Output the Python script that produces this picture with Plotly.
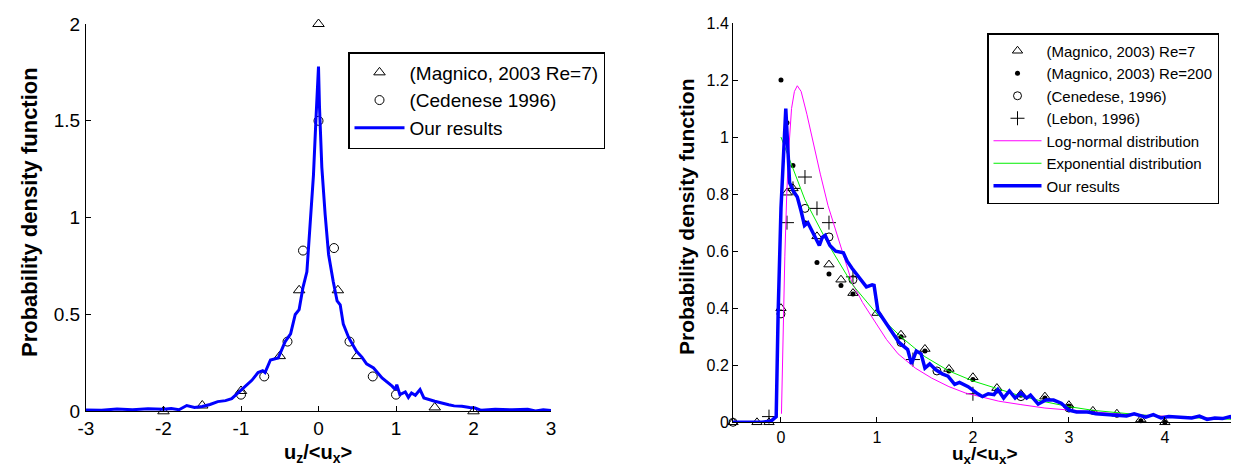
import plotly.graph_objects as go

FONT = "Liberation Sans, Arial, sans-serif"

# ---------------- Left panel data: u_z/<u_x> ----------------
left_mag_x = [-2.0, -1.5, -1.0, -0.5, -0.25, 0.0, 0.25, 0.5, 1.5, 2.0]
left_mag_y = [0.0, 0.03, 0.105, 0.285, 0.625, 2.0, 0.625, 0.285, 0.02, 0.0]

left_ced_x = [-1.0, -0.7, -0.4, -0.2, 0.0, 0.2, 0.4, 0.7, 1.0]
left_ced_y = [0.086, 0.18, 0.36, 0.83, 1.5, 0.843, 0.36, 0.18, 0.086]

left_our_x = [-3.0, -2.8, -2.6, -2.4, -2.2, -2.0, -1.9, -1.8, -1.7, -1.6, -1.5, -1.4,
              -1.3, -1.2, -1.12, -1.05, -0.95, -0.86, -0.78, -0.72, -0.69, -0.62, -0.52,
              -0.43, -0.36, -0.3, -0.25, -0.2, -0.15, -0.11, -0.065, -0.034, -0.01, 0.0,
              0.013, 0.043, 0.086, 0.13, 0.19, 0.24, 0.28, 0.32, 0.39, 0.49, 0.56, 0.62,
              0.71, 0.82, 0.95, 0.99, 1.01, 1.05, 1.12, 1.16, 1.2, 1.25, 1.31, 1.36, 1.5,
              1.6, 1.68, 1.75, 1.85, 1.95, 2.02, 2.1, 2.28, 2.5, 2.7, 2.8, 2.9, 3.0]
left_our_y = [0.007, 0.005, 0.012, 0.008, 0.013, 0.01, 0.015, 0.008, 0.03, 0.02, 0.025, 0.035,
              0.05, 0.055, 0.065, 0.09, 0.13, 0.16, 0.2, 0.21, 0.2, 0.265, 0.275,
              0.36, 0.4, 0.5, 0.525, 0.64, 0.72, 0.95, 1.22, 1.5, 1.77, 1.78,
              1.57, 1.26, 1.015, 0.81, 0.67, 0.57, 0.55, 0.45, 0.38, 0.31, 0.28, 0.245,
              0.224, 0.172, 0.13, 0.112, 0.138, 0.086, 0.1, 0.072, 0.095, 0.083, 0.112, 0.069, 0.052,
              0.04, 0.034, 0.028, 0.026, 0.02, 0.017, 0.005, 0.01, 0.008, 0.01, 0.002, 0.008, 0.004]

left_xticks = [-3, -2, -1, 0, 1, 2, 3]
left_xticktext = ["-3", "-2", "-1", "0", "1", "2", "3"]
left_yticks = [0, 0.5, 1, 1.5, 2]

# ---------------- Right panel data: u_x/<u_x> ----------------
r_mag7_x = [-0.5, -0.25, -0.125, 0.0, 0.0625, 0.125, 0.375, 0.5, 0.625, 0.75, 1.0, 1.25, 1.5,
            1.75, 2.0, 2.25, 2.5, 2.75, 3.0, 3.25, 3.5, 3.75, 4.0]
r_mag7_y = [0.0, 0.0, 0.0, 0.4, 0.805, 0.82, 0.652, 0.553, 0.5, 0.453, 0.383, 0.307, 0.257,
            0.187, 0.158, 0.12, 0.099, 0.09, 0.06, 0.04, 0.03, 0.01, 0.0]

r_mag200_x = [0.0, 0.0625, 0.125, 0.25, 0.375, 0.5, 0.625, 0.75, 1.25, 1.5, 1.75, 2.0,
              2.25, 2.5, 2.75, 3.0, 3.25, 3.5, 3.75, 4.0]
r_mag200_y = [1.2, 1.05, 0.9, 0.70, 0.56, 0.52, 0.48, 0.45, 0.3, 0.25, 0.18, 0.15,
              0.11, 0.095, 0.085, 0.055, 0.035, 0.025, 0.005, 0.0]

r_ced_x = [-0.5, 0.0, 0.25, 0.5, 0.75, 1.25, 1.625, 2.5, 3.0]
r_ced_y = [0.0, 0.38, 0.75, 0.65, 0.5, 0.28, 0.18, 0.09, 0.05]

r_leb_x = [-0.125, 0.0625, 0.125, 0.25, 0.375, 0.5, 0.75, 1.375, 2.0]
r_leb_y = [0.02, 0.70, 0.82, 0.86, 0.75, 0.70, 0.51, 0.22, 0.10]

r_logn_x = [0.005, 0.01, 0.02, 0.04, 0.06, 0.08, 0.11, 0.14, 0.17, 0.21, 0.27, 0.34, 0.41,
            0.49, 0.58, 0.65, 0.74, 0.85, 0.98, 1.1, 1.22, 1.4, 1.57, 1.75, 1.92, 2.1,
            2.27, 2.5, 2.75, 3.0, 3.25, 3.5, 3.75, 4.0, 4.25, 4.5, 4.8]
r_logn_y = [0.03, 0.12, 0.3, 0.58, 0.8, 0.95, 1.10, 1.16, 1.18, 1.16, 1.08, 0.97, 0.87,
            0.76, 0.66, 0.59, 0.49, 0.42, 0.35, 0.29, 0.24, 0.19, 0.155, 0.125, 0.103, 0.087,
            0.074, 0.062, 0.05, 0.043, 0.036, 0.03, 0.025, 0.021, 0.018, 0.015, 0.012]

r_exp_x = [0.0, 0.25, 0.5, 0.75, 1.0, 1.25, 1.5, 1.75, 2.0, 2.25, 2.5, 2.75, 3.0, 3.25,
           3.5, 3.75, 4.0, 4.25, 4.5, 4.8]
r_exp_y = [1.0, 0.78, 0.62, 0.48, 0.38, 0.30, 0.23, 0.18, 0.145, 0.118, 0.092, 0.072, 0.055,
           0.042, 0.033, 0.026, 0.02, 0.016, 0.012, 0.009]

r_our_x = [-0.5, -0.4, -0.3, -0.2, -0.1, -0.05, -0.03, 0.0, 0.05, 0.09, 0.13, 0.17, 0.21,
           0.245, 0.28, 0.32, 0.36, 0.4, 0.43, 0.46, 0.51, 0.57, 0.65, 0.69, 0.74, 0.82,
           0.89, 0.95, 0.97, 1.01, 1.1, 1.17, 1.23, 1.32, 1.36, 1.41, 1.46, 1.5, 1.55, 1.61,
           1.68, 1.74, 1.81, 1.86, 1.95, 2.05, 2.1, 2.16, 2.22, 2.26, 2.32, 2.38, 2.44, 2.5,
           2.56, 2.6, 2.68, 2.76, 2.84, 2.92, 3.0, 3.08, 3.2, 3.28, 3.4, 3.52, 3.6, 3.68,
           3.8, 3.88, 3.96, 4.04, 4.12, 4.2, 4.28, 4.36, 4.44, 4.52, 4.6, 4.68, 4.74, 4.82]
r_our_y = [0.0, 0.0, 0.0, 0.0, 0.005, 0.02, 0.38, 0.75, 1.1, 0.84, 0.81, 0.79, 0.74,
           0.69, 0.70, 0.675, 0.65, 0.62, 0.648, 0.655, 0.62, 0.60, 0.594, 0.565, 0.54, 0.505,
           0.475, 0.482, 0.48, 0.39, 0.345, 0.31, 0.28, 0.255, 0.205, 0.25, 0.24, 0.19, 0.205, 0.185,
           0.17, 0.162, 0.133, 0.14, 0.125, 0.10, 0.09, 0.10, 0.097, 0.115, 0.085, 0.11, 0.085, 0.103,
           0.085, 0.095, 0.064, 0.078, 0.078, 0.067, 0.043, 0.036, 0.036, 0.03, 0.027, 0.023, 0.022, 0.03,
           0.018, 0.027, 0.015, 0.02, 0.018, 0.014, 0.015, 0.022, 0.01, 0.015, 0.013, 0.02, 0.008, 0.025]

right_xticks = [0, 1, 2, 3, 4]
right_yticks = [0, 0.2, 0.4, 0.6, 0.8, 1.0, 1.2, 1.4]

# ---------------- Figure ----------------
W, H = 1239, 465
fig = go.Figure()

open_tri = dict(symbol="triangle-up-open", color="black", size=10, line=dict(width=1, color="black"))
open_circ = dict(symbol="circle-open", color="black", size=9, line=dict(width=1, color="black"))

fig.add_trace(go.Scatter(x=left_mag_x, y=left_mag_y, mode="markers", marker=open_tri,
                         name="(Magnico, 2003 Re=7)", xaxis="x", yaxis="y", legend="legend",
                         cliponaxis=False))
fig.add_trace(go.Scatter(x=left_ced_x, y=left_ced_y, mode="markers", marker=open_circ,
                         name="(Cedenese 1996)", xaxis="x", yaxis="y", legend="legend",
                         cliponaxis=False))
fig.add_trace(go.Scatter(x=left_our_x, y=left_our_y, mode="lines",
                         line=dict(color="#0000ff", width=3),
                         name="Our results", xaxis="x", yaxis="y", legend="legend"))

fig.add_trace(go.Scatter(x=r_mag7_x, y=r_mag7_y, mode="markers",
                         marker=dict(symbol="triangle-up-open", color="black", size=9,
                                     line=dict(width=1, color="black")),
                         name="(Magnico, 2003) Re=7", xaxis="x2", yaxis="y2", legend="legend2",
                         cliponaxis=False))
fig.add_trace(go.Scatter(x=r_mag200_x, y=r_mag200_y, mode="markers",
                         marker=dict(symbol="circle", color="black", size=5),
                         name="(Magnico, 2003) Re=200", xaxis="x2", yaxis="y2", legend="legend2",
                         cliponaxis=False))
fig.add_trace(go.Scatter(x=r_ced_x, y=r_ced_y, mode="markers",
                         marker=dict(symbol="circle-open", color="black", size=8,
                                     line=dict(width=1, color="black")),
                         name="(Cenedese, 1996)", xaxis="x2", yaxis="y2", legend="legend2",
                         cliponaxis=False))
fig.add_trace(go.Scatter(x=r_leb_x, y=r_leb_y, mode="markers",
                         marker=dict(symbol="cross-thin-open", color="black", size=10,
                                     line=dict(width=1, color="black")),
                         name="(Lebon, 1996)", xaxis="x2", yaxis="y2", legend="legend2",
                         cliponaxis=False))
fig.add_trace(go.Scatter(x=r_logn_x, y=r_logn_y, mode="lines",
                         line=dict(color="#ff00ff", width=1),
                         name="Log-normal distribution", xaxis="x2", yaxis="y2", legend="legend2"))
fig.add_trace(go.Scatter(x=r_exp_x, y=r_exp_y, mode="lines",
                         line=dict(color="#00ee00", width=1),
                         name="Exponential distribution", xaxis="x2", yaxis="y2", legend="legend2"))
fig.add_trace(go.Scatter(x=r_our_x, y=r_our_y, mode="lines",
                         line=dict(color="#0000ff", width=3.5),
                         name="Our results", xaxis="x2", yaxis="y2", legend="legend2"))


def px(v):
    return v / W


def py(v):
    return (H - v) / H


axis_common = dict(showline=True, linecolor="black", linewidth=1, mirror=False,
                   showgrid=False, zeroline=False, ticks="inside", ticklen=5,
                   tickcolor="black", tickwidth=1, automargin=False)

fig.update_layout(
    template="none",
    width=W, height=H,
    margin=dict(l=0, r=0, t=0, b=0, pad=0),
    paper_bgcolor="white", plot_bgcolor="white",
    font=dict(family=FONT, color="black"),
    xaxis=dict(domain=[px(78), px(543)], range=[-3, 3], anchor="y",
               tickvals=left_xticks, ticktext=left_xticktext,
               tickfont=dict(size=19), ticklabelstandoff=0, **axis_common),
    yaxis=dict(domain=[py(403.3), py(16)], range=[0, 2], anchor="x",
               tickvals=left_yticks, tickfont=dict(size=19), ticklabelstandoff=1,
               **axis_common),
    xaxis2=dict(domain=[px(725), px(1234.6)], range=[-0.5, 4.81], anchor="y2",
                tickvals=right_xticks, tickfont=dict(size=16), ticklabelstandoff=0,
                **axis_common),
    yaxis2=dict(domain=[py(414.3), py(15)], range=[0, 1.4], anchor="x2",
                tickvals=right_yticks, tickfont=dict(size=16), ticklabelstandoff=0,
                **axis_common),
    legend=dict(x=px(340), y=py(44), xanchor="left", yanchor="top",
                bgcolor="white", bordercolor="black", borderwidth=1.5,
                font=dict(size=19, family=FONT), itemwidth=50, tracegroupgap=0),
    legend2=dict(x=px(979), y=py(25), xanchor="left", yanchor="top",
                 bgcolor="white", bordercolor="black", borderwidth=1.5,
                 font=dict(size=15, family=FONT), itemwidth=48, tracegroupgap=0),
    showlegend=True,
)

title_font = dict(family=FONT, size=22, color="black")
fig.add_annotation(text="<b>Probability density function</b>", xref="paper", yref="paper",
                   x=px(21), y=py(204), textangle=-90, showarrow=False,
                   xanchor="center", yanchor="middle", font=title_font)
fig.add_annotation(text="<b>Probability density function</b>", xref="paper", yref="paper",
                   x=px(678), y=py(209), textangle=-90, showarrow=False,
                   xanchor="center", yanchor="middle", font=dict(family=FONT, size=21, color="black"))
fig.add_annotation(text="<b>u<sub>z</sub>/&lt;u<sub>x</sub>&gt;</b>", xref="paper", yref="paper",
                   x=px(310), y=py(459), showarrow=False, xanchor="center", yanchor="bottom",
                   borderpad=0, font=dict(family=FONT, size=20, color="black"))
fig.add_annotation(text="<b>u<sub>x</sub>/&lt;u<sub>x</sub>&gt;</b>", xref="paper", yref="paper",
                   x=px(977), y=py(460), showarrow=False, xanchor="center", yanchor="bottom",
                   borderpad=0, font=dict(family=FONT, size=19, color="black"))

fig.write_html("out.html")
